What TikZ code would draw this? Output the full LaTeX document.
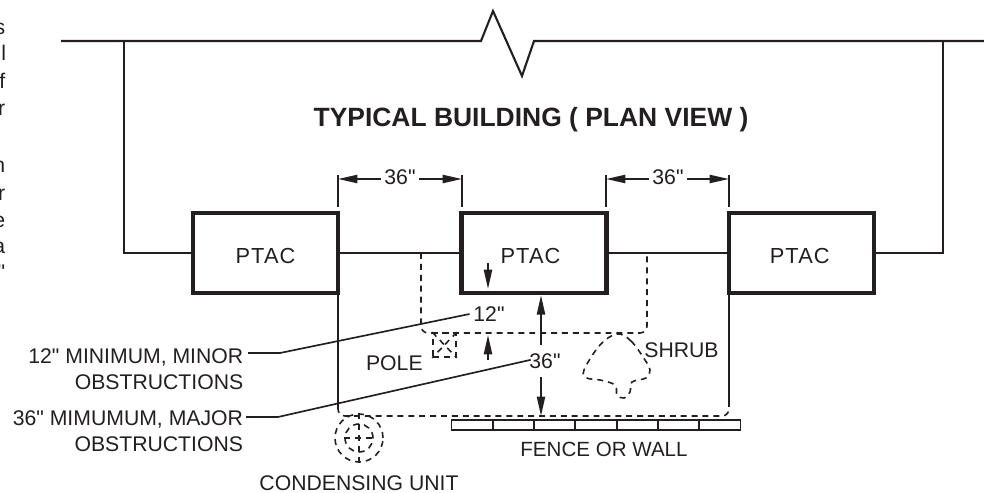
\documentclass[tikz,border=0pt]{standalone}
\usepackage{fontspec}
\setmainfont{Liberation Sans}[Ligatures=TeXOff]
\newfontfamily\ptacfont{Liberation Sans}[LetterSpace=5,Ligatures=TeXOff]
\usetikzlibrary{arrows.meta}
\definecolor{ink}{HTML}{231F20}
\newcommand{\ptac}{\ptacfont\fontsize{12.4}{14}\selectfont PTAC}
\tikzset{
  wall/.style={ink,line width=1.2pt},
  thinline/.style={ink,line width=0.95pt},
  dashline/.style={ink,line width=0.9pt,dash pattern=on 3.4pt off 2.8pt},
  tipline/.style={ink,line width=1.1pt,-{Stealth[length=11pt,width=4.6pt,inset=0pt]}},
  ptacbox/.style={draw=ink,line width=2.5pt,minimum width=2.9cm,minimum height=1.6cm,inner sep=0pt,text=ink},
  txt/.style={text=ink,font=\fontsize{12.07}{14.7}\selectfont,inner sep=0pt},
  dimlab/.style={txt,inner xsep=2pt,inner ysep=2.5pt},
  sidetxt/.style={txt,anchor=east}
}
\begin{document}
\begin{tikzpicture}[x=0.02cm,y=-0.02cm]
  \useasboundingbox (0,0) rectangle (984,493);
  \node[ptacbox] (ptacA) at (265.5,253) {\raisebox{-6.2pt}[0pt][0pt]{\ptac}};
  \node[ptacbox] (ptacB) at (534,253) {\raisebox{-6.2pt}[0pt][0pt]{\kern-4pt\ptac}};
  \node[ptacbox] (ptacC) at (801.5,253) {\raisebox{-6.2pt}[0pt][0pt]{\kern-2pt\ptac}};

  \coordinate (wallL) at (61,41);
  \coordinate (wallM) at (481,41);
  \coordinate (wallN) at (534,41);
  \coordinate (wallR) at (984,41);
  \coordinate (cornerL) at (124,41);
  \coordinate (cornerR) at (943,41);
  \draw[wall] (wallL) -- (wallM) -- (493,11) -- (522,76) -- (wallN) -- (wallR);
  \draw[wall] (cornerL) -- (cornerL |- ptacA.west) -- (ptacA.west);
  \draw[wall] (cornerR) -- (cornerR |- ptacC.east) -- (ptacC.east);
  \draw[wall] (ptacA.east) -- (ptacB.west);
  \draw[wall] (ptacB.east) -- (ptacC.west);

  \node[txt,font=\fontsize{15.05}{17}\selectfont\bfseries] (title) at (531,120) {TYPICAL BUILDING ( PLAN VIEW )};

  \coordinate (tickA) at (338,175);
  \coordinate (tickB) at (462,175);
  \coordinate (tickC) at (606,175);
  \coordinate (tickD) at (729,175);
  \coordinate (dimA) at (338,179);
  \coordinate (dimB) at (462,179);
  \coordinate (dimC) at (606,179);
  \coordinate (dimD) at (729,179);
  \foreach \n in {A,B,C,D}
    \draw[thinline] (tick\n) -- +(0,32);
  \node[dimlab] (lengthA) at (400,177) {36"};
  \node[dimlab] (lengthB) at (668,177) {36"};
  \draw[tipline] (lengthA.west |- dimA) -- (dimA);
  \draw[tipline] (lengthA.east |- dimB) -- (dimB);
  \draw[tipline] (lengthB.west |- dimC) -- (dimC);
  \draw[tipline] (lengthB.east |- dimD) -- (dimD);

  \coordinate (clearL) at (338,407);
  \coordinate (clearR) at (729,407);
  \coordinate (minorL) at (421,253);
  \coordinate (minorR) at (647,253);
  \draw[wall] (ptacA.south -| clearL) -- (clearL);
  \draw[wall] (ptacC.south -| clearR) -- (clearR);
  \draw[dashline,rounded corners=4pt] (clearL) -- (338,416) -- (729,416) -- (clearR);
  \draw[dashline,rounded corners=4pt] (minorL) -- (421,333) -- (647,333) -- (minorR);

  \node[dimlab] (minor) at (489,314) {12"};
  \node[dimlab,inner ysep=4.5pt] (major) at (545,361) {36"};
  \coordinate (downA) at (488,263);
  \coordinate (downB) at (488,289);
  \coordinate (upA) at (488,360);
  \coordinate (upB) at (488,335);
  \coordinate (tall) at (541,416);
  \draw[tipline] (downA) -- (downB);
  \draw[tipline] (upA) -- (upB);
  \draw[tipline] (major.north -| tall) -- (tall |- ptacB.south);
  \draw[tipline] (major.south -| tall) -- (tall);

  \node[txt,anchor=east,align=right,inner xsep=2.5pt] (minorlab) at (248,369) {12" MINIMUM, MINOR\\OBSTRUCTIONS};
  \node[txt,anchor=east,align=right,inner xsep=1.5pt] (majorlab) at (246,431) {36" MIMUMUM, MAJOR\\OBSTRUCTIONS};
  \coordinate (minorbend) at (280,353);
  \coordinate (majorbend) at (278,417);
  \draw[thinline] (minorlab.east |- minorbend) -- (minorbend) -- (minor.west);
  \draw[thinline,shorten >=-3pt] (majorlab.east |- majorbend) -- (majorbend) -- (major.west);

  \node[draw=ink,dashline,minimum width=0.46cm,minimum height=0.48cm,inner sep=0pt] (pole) at (444.5,345) {};
  \draw[dashline] (pole.north west) -- (pole.south east);
  \draw[dashline] (pole.north east) -- (pole.south west);
  \node[txt,anchor=east] (polelab) at (423,363) {POLE};

  \draw[dashline] plot[smooth cycle,tension=0.6] coordinates {(617,334) (631,341) (645,360) (650,370) (646,378) (632,382) (630,392) (624,398) (617,395) (615,385) (600,380) (587,378) (584,370) (600,345)};
  \node[txt,anchor=west] (shrub) at (644,350) {SHRUB};

  \node[draw=ink,thinline,minimum width=5.78cm,minimum height=0.2cm,inner sep=0pt] (fence) at (596,425) {};
  \foreach \x in {493,534,575,617,658,699}
    \draw[thinline] (\x,420) -- (\x,430);
  \node[txt,font=\fontsize{11.7}{14}\selectfont] (fencelab) at (604,449) {FENCE OR WALL};

  \node[draw=ink,dashline,circle,minimum size=0.96cm,inner sep=0pt] (unit) at (359,438) {};
  \node[draw=ink,dashline,circle,minimum size=0.56cm,inner sep=0pt] (unitin) at (359,438) {};
  \draw[dashline] (unit.north) -- (unit.south);
  \draw[dashline] (unitin.west) -- (unitin.east);
  \node[txt] (unitlab) at (359,483) {CONDENSING UNIT};

  \node[sidetxt] (cutA) at (5.5,29) {s};
  \node[sidetxt] (cutB) at (6.5,53) {ll};
  \node[sidetxt] (cutC) at (5.5,81) {f};
  \node[sidetxt] (cutD) at (5.5,110) {r};
  \node[sidetxt] (cutE) at (5.5,167) {n};
  \node[sidetxt] (cutF) at (5.5,195) {r};
  \node[sidetxt] (cutG) at (5.5,222) {e};
  \node[sidetxt] (cutH) at (5.5,248) {a};
  \node[sidetxt] (cutI) at (5.5,272) {"};
\end{tikzpicture}
\end{document}
